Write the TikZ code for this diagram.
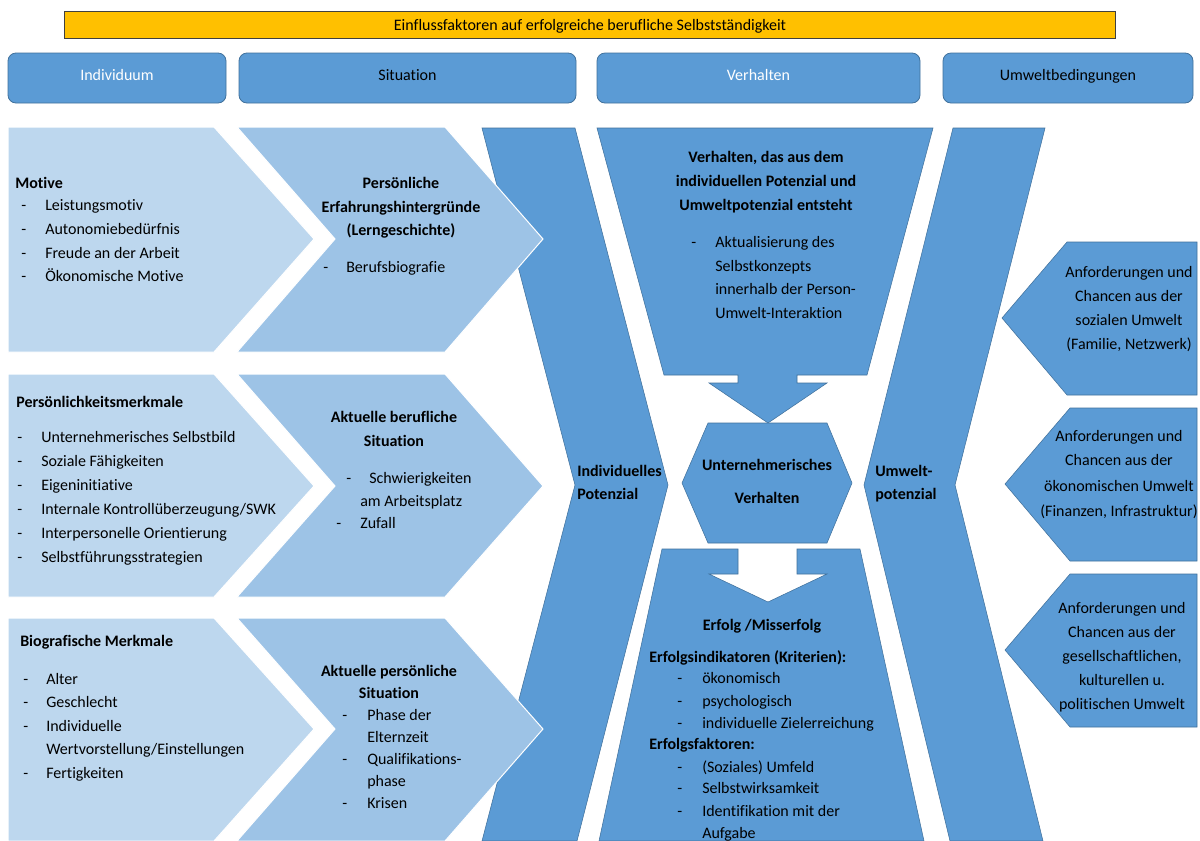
\documentclass[tikz,border=0pt]{standalone}
\usepackage{fontspec}
\setmainfont{Carlito}[Ligatures=NoCommon]
\definecolor{cLight}{HTML}{BDD7EE}
\definecolor{cMed}{HTML}{9DC3E6}
\definecolor{cDark}{HTML}{5B9BD5}
\definecolor{cEdge}{HTML}{41719C}
\definecolor{cGold}{HTML}{FFC000}
\begin{document}
\begin{tikzpicture}[x=0.75pt,y=-0.75pt,
  font=\fontsize{12}{14}\selectfont,
  txt/.style={anchor=base west, inner sep=0pt},
  ctr/.style={anchor=base, inner sep=0pt},
  bld/.style={font=\fontsize{12}{14}\selectfont\bfseries},
  lightc/.style={fill=cLight, draw=white, line width=0.75pt},
  medc/.style={fill=cMed, draw=white, line width=0.75pt},
  darkc/.style={fill=cDark, draw=cEdge, line width=0.4pt},
  tab/.style={fill=cDark, draw=cEdge, line width=0.6pt, rounded corners=6pt}]
\useasboundingbox (0,0) rectangle (1200,840);
\fill[white] (0,0) rectangle (1200,840);

% title bar
\draw[fill=cGold, draw=black!75, line width=0.75pt] (64,11) rectangle (1115,38);
\node[ctr] (title) at (590,30) {Einflussfaktoren auf erfolgreiche berufliche Selbstständigkeit};

% tabs
\draw[tab] (8,53) rectangle (226,103);
\draw[tab] (239,53) rectangle (576,103);
\draw[tab] (597,53) rectangle (920,103);
\draw[tab] (943,53) rectangle (1193,103);
\node[ctr, text=white] (tInd) at (117,80) {Individuum};
\node[ctr] (tSit) at (407.5,80) {Situation};
\node[ctr, text=white] (tVer) at (758.5,80) {Verhalten};
\node[ctr] (tUmw) at (1068,80) {Umweltbedingungen};

% bands
\draw[darkc] (482,128) -- (575,128) -- (668,485) -- (577,841) -- (482,841) -- (575,485) -- cycle;
\draw[darkc] (953,128) -- (1045,128) -- (955,485) -- (1043,841) -- (950,841) -- (864,485) -- cycle;

% left chevrons (on top of the band)
\foreach \T/\M/\B in {127/239/352, 374/486/597, 618/729/841}{
  \draw[lightc] (8,\T) -- (214,\T) -- (314,\M) -- (214,\B) -- (8,\B) -- cycle;
  \draw[medc] (237,\T) -- (445,\T) -- (543,\M) -- (445,\B) -- (237,\B) -- (335,\M) -- cycle;
}

% central shapes
\draw[darkc] (597,128) -- (933,128) -- (867,375) -- (797,375) -- (797,383) -- (827,383) -- (768,423)
  -- (709,383) -- (738,383) -- (738,375) -- (664,375) -- cycle;
\draw[darkc] (708,423) -- (827,423) -- (852,483) -- (827,543) -- (708,543) -- (682,483) -- cycle;
\draw[darkc] (662,549) -- (738,549) -- (738,574) -- (709,574) -- (768,602) -- (827,574) -- (797,574)
  -- (797,549) -- (860,549) -- (924,841) -- (599,841) -- cycle;

% right shapes
\foreach \T/\M/\B/\P/\K in {242/318/395/1002/1067, 408/484/561/1005/1070, 574/650/727/1005/1070}{
  \draw[darkc] (\K,\T) -- (1197,\T) -- (1197,\B) -- (\K,\B) -- (\P,\M) -- cycle;
}

% left column texts
\node[txt,bld] (mot) at (15,188) {Motive};
\foreach \y/\t [count=\i] in {210/Leistungsmotiv, 234/Autonomiebedürfnis, 258/Freude an der Arbeit, 281/Ökonomische Motive}{
  \node[txt] (motD\i) at (21,\y) {-};
  \node[txt] (motT\i) at (45,\y) {\t};
}
\node[txt,bld] (pers) at (16,407) {Persönlichkeitsmerkmale};
\foreach \y/\t [count=\i] in {442/Unternehmerisches Selbstbild, 466/Soziale Fähigkeiten, 490/Eigeninitiative, 514/{Internale Kontrollüberzeugung/SWK}, 538/Interpersonelle Orientierung, 562/Selbstführungsstrategien}{
  \node[txt] (persD\i) at (17,\y) {-};
  \node[txt] (persT\i) at (41,\y) {\t};
}
\node[txt,bld] (bio) at (20,646) {Biografische Merkmale};
\foreach \y/\t [count=\i] in {684/Alter, 707/Geschlecht, 731/Individuelle, 778/Fertigkeiten}{
  \node[txt] (bioD\i) at (23,\y) {-};
  \node[txt] (bioT\i) at (46,\y) {\t};
}
\node[txt] (bioW) at (46,754) {Wertvorstellung/Einstellungen};

% situation texts
\node[ctr,bld] (s1a) at (401,188) {Persönliche};
\node[ctr,bld] (s1b) at (401,212) {Erfahrungshintergründe};
\node[ctr,bld] (s1c) at (401,235) {(Lerngeschichte)};
\node[txt] (s1d) at (323,272) {-};
\node[txt] (s1e) at (346,272) {Berufsbiografie};

\node[ctr,bld] (s2a) at (394,422) {Aktuelle berufliche};
\node[ctr,bld] (s2b) at (394,446) {Situation};
\node[txt] (s2c) at (346,483) {-};
\node[txt] (s2d) at (369,483) {Schwierigkeiten};
\node[txt] (s2e) at (360,506) {am Arbeitsplatz};
\node[txt] (s2f) at (336,528) {-};
\node[txt] (s2g) at (360,528) {Zufall};

\node[ctr,bld] (s3a) at (389,676) {Aktuelle persönliche};
\node[ctr,bld] (s3b) at (389,698) {Situation};
\foreach \y/\t [count=\i] in {720/Phase der, 764/Qualifikations-, 808/Krisen}{
  \node[txt] (s3D\i) at (342,\y) {-};
  \node[txt] (s3T\i) at (367,\y) {\t};
}
\node[txt] (s3e) at (367,742) {Elternzeit};
\node[txt] (s3f) at (367,786) {phase};

% band texts
\node[txt,bld] (ip1) at (577,476) {Individuelles};
\node[txt,bld] (ip2) at (577,499) {Potenzial};
\node[txt,bld] (up1) at (875,476) {Umwelt-};
\node[txt,bld] (up2) at (875,499) {potenzial};

% hexagon text
\node[ctr,bld] (hx1) at (767,470) {Unternehmerisches};
\node[ctr,bld] (hx2) at (767,503) {Verhalten};

% top trapezoid text
\node[ctr,bld] (v1) at (766,162) {Verhalten, das aus dem};
\node[ctr,bld] (v2) at (766,186) {individuellen Potenzial und};
\node[ctr,bld] (v3) at (766,210) {Umweltpotenzial entsteht};
\node[txt] (v4) at (691,247) {-};
\foreach \y/\t [count=\i] in {247/Aktualisierung des, 271/Selbstkonzepts, 294/innerhalb der Person-, 318/Umwelt-Interaktion}{
  \node[txt] (vT\i) at (715,\y) {\t};
}

% bottom trapezoid text
\node[ctr,bld] (e1) at (762,630) {Erfolg /Misserfolg};
\node[txt,bld] (e2) at (649,662) {Erfolgsindikatoren (Kriterien):};
\foreach \y/\t [count=\i] in {683/ökonomisch, 706/psychologisch, 728/individuelle Zielerreichung}{
  \node[txt] (eiD\i) at (677,\y) {-};
  \node[txt] (eiT\i) at (702,\y) {\t};
}
\node[txt,bld] (e3) at (649,749) {Erfolgsfaktoren:};
\foreach \y/\t [count=\i] in {772/(Soziales) Umfeld, 793/Selbstwirksamkeit, 816/Identifikation mit der}{
  \node[txt] (efD\i) at (677,\y) {-};
  \node[txt] (efT\i) at (702,\y) {\t};
}
\node[txt] (e4) at (702,838) {Aufgabe};

% right texts
\foreach \y/\t [count=\i] in {277/Anforderungen und, 301/Chancen aus der, 325/sozialen Umwelt, 349/{(Familie, Netzwerk)}}{
  \node[ctr] (ra\i) at (1129,\y) {\t};
}
\foreach \y/\t [count=\i] in {441/Anforderungen und, 465/Chancen aus der, 491/ökonomischen Umwelt, 516/{(Finanzen, Infrastruktur)}}{
  \node[ctr] (rb\i) at (1119,\y) {\t};
}
\foreach \y/\t [count=\i] in {613/Anforderungen und, 637/Chancen aus der, 661/{gesellschaftlichen,}, 685/kulturellen u., 709/politischen Umwelt}{
  \node[ctr] (rc\i) at (1122,\y) {\t};
}
\end{tikzpicture}
\end{document}
